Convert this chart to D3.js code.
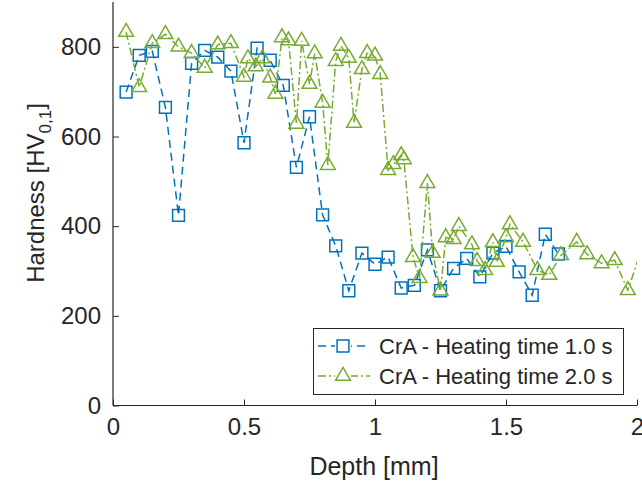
<html>
<body style="margin:0;background:#fff">
<svg class="chart"></svg>
</body>
<script src="https://d3js.org/d3.v7.min.js"></script>
<script>
  // blue series: heating time 1.0 s
  var depth1 = [0.05, 0.1, 0.15, 0.2, 0.25, 0.3, 0.35, 0.4, 0.45, 0.5, 0.55, 0.6, 0.65, 0.7, 0.75, 0.8, 0.85,
                0.9, 0.95, 1.0, 1.05, 1.1, 1.15, 1.2, 1.25, 1.3, 1.35, 1.4, 1.45, 1.5, 1.55, 1.6, 1.65, 1.7];
  var hard1 = [699, 781, 790, 665, 424, 763, 792, 777, 746, 586, 797, 770, 714, 531, 644, 425, 356,
               256, 340, 315, 331, 262, 268, 347, 256, 306, 328, 287, 340, 355, 298, 246, 382, 338];

  // green series: heating time 2.0 s
  var depth2 = [0.05, 0.1, 0.15, 0.2, 0.25, 0.3, 0.35, 0.4, 0.45, 0.5, 0.515, 0.545, 0.57, 0.6, 0.62, 0.645,
                0.67, 0.7, 0.72, 0.75, 0.77, 0.8, 0.82, 0.85, 0.87, 0.9, 0.92, 0.95, 0.97, 1.0, 1.02, 1.05,
                1.07, 1.1, 1.11, 1.145, 1.17, 1.2, 1.22, 1.25, 1.27, 1.3, 1.32, 1.37, 1.39, 1.42, 1.45, 1.465,
                1.5, 1.515, 1.565, 1.62, 1.665, 1.71, 1.77, 1.81, 1.865, 1.915, 1.965, 2.03];
  var hard2 = [833, 710, 808, 828, 800, 786, 753, 805, 808, 733, 774, 756, 774, 731, 695, 821,
               814, 628, 813, 717, 785, 675, 536, 768, 802, 775, 630, 750, 786, 780, 739, 525,
               538, 558, 549, 331, 284, 496, 340, 256, 375, 371, 400, 359, 322, 302, 364, 320,
               375, 404, 365, 302, 291, 335, 365, 337, 317, 324, 257, 370];

  var seriesNames = ["CrA - Heating time 1.0 s", "CrA - Heating time 2.0 s"];
  var xTicks = [0, 0.5, 1, 1.5, 2];
  var yTicks = [0, 200, 400, 600, 800];

  var width = 642, height = 486;
  var pLeft = 113, pRight = 637, pTop = 2, pBottom = 405.5;
  var axisColor = "#262626";
  var font = "'Liberation Sans', Arial, sans-serif";
  var blue = "#0072BD", green = "#77AC30";

  var x = d3.scaleLinear().domain([0, 2]).range([pLeft, pRight]);
  var y = d3.scaleLinear().domain([0, 900]).range([pBottom, pTop]);

  var chart = d3.select(".chart")
    .attr("width", width)
    .attr("height", height)
    .style("font-family", font);

  chart.append("defs").append("clipPath").attr("id", "plotclip")
    .append("rect").attr("x", pLeft).attr("y", pTop).attr("width", pRight - pLeft).attr("height", pBottom - pTop);

  // axes
  var xAxis = d3.axisBottom(x).tickValues(xTicks).tickSize(-6).tickPadding(12)
    .tickFormat(function(d) { return d; });
  var yAxis = d3.axisLeft(y).tickValues(yTicks).tickSize(-6).tickPadding(12);

  var gx = chart.append("g").attr("transform", "translate(0," + pBottom + ")").call(xAxis);
  var gy = chart.append("g").attr("transform", "translate(" + pLeft + ",0)").call(yAxis);
  [gx, gy].forEach(function(g) {
    g.selectAll("path.domain").attr("stroke", axisColor).attr("stroke-width", 1.2);
    g.selectAll(".tick line").attr("stroke", axisColor);
    g.selectAll(".tick text").attr("fill", axisColor).style("font-size", "24px").style("font-family", font);
  });
  gx.select("path.domain").attr("d", "M" + pLeft + ",0H" + pRight);
  gy.select("path.domain").attr("d", "M0," + pBottom + "V" + pTop);

  chart.append("text")
    .attr("x", 374).attr("y", 475)
    .attr("text-anchor", "middle").attr("fill", axisColor).style("font-size", "25px")
    .text("Depth [mm]");

  var ylab = chart.append("text")
    .attr("transform", "translate(44,193) rotate(-90)")
    .attr("text-anchor", "middle").attr("fill", axisColor).style("font-size", "24px");
  ylab.append("tspan").text("Hardness [HV");
  ylab.append("tspan").attr("dy", 7).style("font-size", "17px").text("0,1");
  ylab.append("tspan").attr("dy", -7).text("]");

  var series = [
    {name: seriesNames[0], xs: depth1, ys: hard1, color: blue, dash: "8,5", marker: "square"},
    {name: seriesNames[1], xs: depth2, ys: hard2, color: green, dash: "8,3,2,3", marker: "triangle"}
  ];

  var line = d3.line().x(function(d) { return x(d[0]); }).y(function(d) { return y(d[1]); });
  var sqSym = d3.symbol().type(d3.symbolSquare).size(140);
  var triSym = d3.symbol().type(d3.symbolTriangle).size(95);

  var plot = chart.append("g").attr("clip-path", "url(#plotclip)");

  series.forEach(function(s) {
    var pts = s.xs.map(function(v, i) { return [v, s.ys[i]]; });
    plot.append("path")
      .datum(pts)
      .attr("d", line)
      .attr("fill", "none")
      .attr("stroke", s.color)
      .attr("stroke-width", 1.5)
      .attr("stroke-dasharray", s.dash);
    plot.selectAll(".m-" + s.marker)
      .data(pts.filter(function(p) { return p[0] <= 2; }))
      .enter().append("path")
      .attr("class", "m-" + s.marker)
      .attr("transform", function(d) { return "translate(" + x(d[0]) + "," + y(d[1]) + ")"; })
      .attr("d", s.marker == "square" ? sqSym : triSym)
      .attr("fill", "none")
      .attr("stroke", s.color)
      .attr("stroke-width", 1.5);
  });

  // legend
  var lg = chart.append("g");
  lg.append("rect")
    .attr("x", 313.5).attr("y", 328.5).attr("width", 310).attr("height", 66)
    .attr("fill", "#fff").attr("stroke", axisColor).attr("stroke-width", 1);
  series.forEach(function(s, i) {
    var ly = 346 + i * 30;
    lg.append("line")
      .attr("x1", 318).attr("x2", 370).attr("y1", ly).attr("y2", ly)
      .attr("stroke", s.color).attr("stroke-width", 1.5).attr("stroke-dasharray", s.dash);
    lg.append("rect")
      .attr("x", 335).attr("y", ly - 8).attr("width", 16).attr("height", 16).attr("fill", "#fff");
    lg.append("path")
      .attr("transform", "translate(343," + ly + ")")
      .attr("d", s.marker == "square" ? sqSym : triSym)
      .attr("fill", "none").attr("stroke", s.color).attr("stroke-width", 1.5);
    lg.append("text")
      .attr("x", 379).attr("y", ly + 8)
      .attr("fill", axisColor).style("font-size", "22px")
      .text(s.name);
  });
</script>
</html>
